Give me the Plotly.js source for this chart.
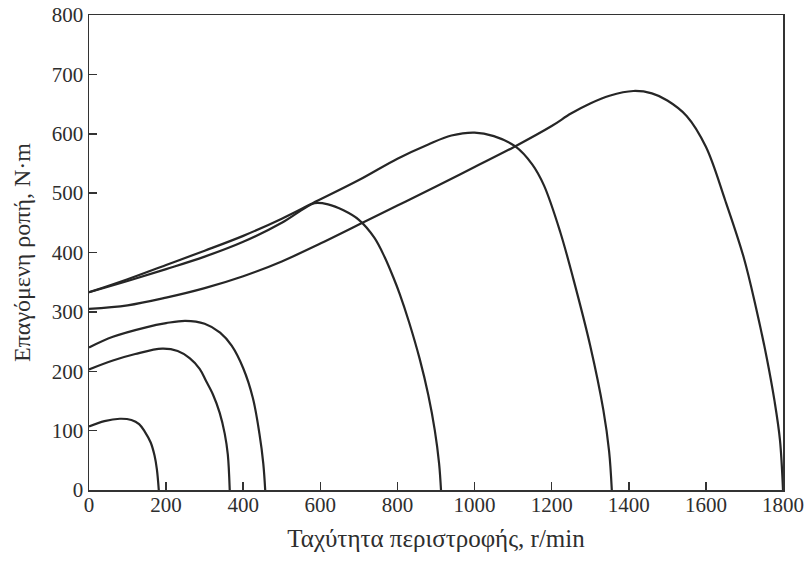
<!DOCTYPE html>
<html>
<head>
<meta charset="utf-8">
<script src="https://cdn.plot.ly/plotly-3.0.1.min.js"></script>
<style>
html,body{margin:0;padding:0;background:#ffffff;}
#chart{width:808px;height:562px;}
</style>
</head>
<body>
<div id="chart"></div>
<script>
// Torque-speed curves (speed r/min, induced torque N·m)
const speed1800 = [0, 100, 200, 300, 400, 500, 600, 700, 800, 900, 1000, 1100, 1200, 1250, 1300, 1350, 1412, 1460, 1500, 1550, 1600, 1650, 1698, 1730, 1758, 1778, 1792, 1800];
const torque1800 = [305, 311, 324, 340, 360, 385, 415, 447, 479, 511, 544, 577, 613, 634, 651, 664, 672, 668, 656, 630, 578, 488, 392, 307, 222, 150, 85, 0];

const speed1350 = [0, 100, 200, 300, 400, 500, 580, 700, 800, 880, 940, 1000, 1050, 1105, 1150, 1180, 1222, 1256, 1300, 1334, 1349, 1356];
const torque1350 = [333, 355, 379, 403, 428, 457, 483, 522, 558, 582, 597, 602, 596, 579, 548, 513, 435, 356, 243, 135, 65, 0];

const speed900 = [0, 100, 200, 300, 400, 500, 560, 585, 620, 660, 700, 740, 767, 790, 806, 830, 858, 880, 897, 908, 913];
const torque900 = [333, 352, 372, 393, 418, 450, 475, 483, 481, 471, 455, 425, 392, 357, 330, 283, 220, 160, 100, 45, 0];

const speed450 = [0, 62, 148, 200, 250, 300, 340, 370, 400, 425, 442, 452, 457];
const torque450 = [240, 258, 274, 281, 285, 280, 265, 243, 205, 155, 95, 45, 0];

const speed360 = [0, 62, 120, 190, 230, 261, 287, 304, 322, 339, 352, 360, 365];
const torque360 = [203, 218, 229, 238, 234, 222, 204, 183, 160, 130, 95, 60, 0];

const speed180 = [0, 40, 80, 110, 130, 145, 160, 170, 176, 181];
const torque180 = [107, 116, 120, 118, 111, 98, 80, 58, 35, 0];

const xTickVals = [0, 200, 400, 600, 800, 1000, 1200, 1400, 1600, 1800];
const yTickVals = [0, 100, 200, 300, 400, 500, 600, 700, 800];
const xTitle = 'Ταχύτητα περιστροφής, r/min';
const yTitle = 'Επαγόμενη ροπή, N·m';

const series = [
  [speed1800, torque1800],
  [speed1350, torque1350],
  [speed900, torque900],
  [speed450, torque450],
  [speed360, torque360],
  [speed180, torque180]
];

const traces = series.map(s => ({
  x: s[0], y: s[1], type: 'scatter', mode: 'lines',
  line: {color: '#262626', width: 2.2, shape: 'spline', smoothing: 1},
  hoverinfo: 'skip', showlegend: false
}));

const font = {family: '"Liberation Serif", "DejaVu Serif", serif', color: '#2e2e2e'};

const layout = {
  width: 808, height: 562,
  margin: {l: 89, r: 25, t: 15, b: 72},
  paper_bgcolor: '#ffffff', plot_bgcolor: '#ffffff',
  showlegend: false,
  font: Object.assign({size: 21}, font),
  xaxis: {
    range: [0, 1800], tickvals: xTickVals, ticktext: xTickVals.map(String),
    ticks: 'inside', ticklen: 8, tickwidth: 1.5, tickcolor: '#333',
    ticklabelstandoff: -5,
    showline: true, linecolor: '#333', linewidth: 1.5, mirror: true,
    showgrid: false, zeroline: false,
    tickfont: Object.assign({size: 21}, font),
    title: {text: xTitle, font: Object.assign({size: 25}, font), standoff: 14}
  },
  yaxis: {
    range: [0, 800], tickvals: yTickVals, ticktext: yTickVals.map(String),
    ticks: 'inside', ticklen: 8, tickwidth: 1.5, tickcolor: '#333',
    showline: true, linecolor: '#333', linewidth: 1.5, mirror: true,
    showgrid: false, zeroline: false,
    tickfont: Object.assign({size: 21}, font),
    title: {text: yTitle, font: Object.assign({size: 24}, font), standoff: 14}
  }
};

Plotly.newPlot('chart', traces, layout, {staticPlot: true, displayModeBar: false});
</script>
</body>
</html>
